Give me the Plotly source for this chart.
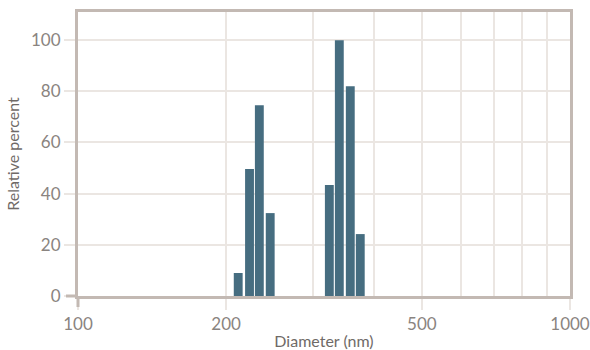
import plotly.graph_objects as go

# Data
diameter_nm = [211.7, 223.2, 233.7, 245.9, 324.3, 339.8, 357.7, 374.8]
relative_percent = [9.0, 49.6, 74.6, 32.4, 43.4, 100.0, 82.0, 24.2]

x_tickvals = [100, 200, 500, 1000]
x_ticktext = ["100", "200", "500", "1000"]
x_minor_vals = [300, 400, 600, 700, 800, 900]
y_tickvals = [0, 20, 40, 60, 80, 100]

BAR = "#466d80"
GRID = "#ebe6e2"
AXIS = "#c3b9b3"
TICKFONT = "#8a8480"
TITLEFONT = "#6f6a67"

widths = [d * 0.0415 for d in diameter_nm]

fig = go.Figure(
    go.Bar(
        x=diameter_nm,
        y=relative_percent,
        width=widths,
        marker=dict(color=BAR, line=dict(width=0)),
    )
)

fig.update_layout(
    width=590,
    height=350,
    margin=dict(l=78, r=20, t=12, b=54),
    paper_bgcolor="white",
    plot_bgcolor="white",
    showlegend=False,
    font=dict(family="Lato", color=TICKFONT),
)

fig.update_xaxes(
    type="log",
    range=[2, 3],
    automargin=False,
    tickvals=x_tickvals,
    ticktext=x_ticktext,
    ticks="outside",
    ticklen=11,
    tickwidth=1.5,
    tickcolor=GRID,
    tickfont=dict(size=17, color=TICKFONT, family="Lato"),
    showgrid=True,
    gridcolor=GRID,
    gridwidth=1.5,
    minor=dict(tickvals=x_minor_vals, showgrid=True, gridcolor=GRID, gridwidth=1.5, ticks=""),
    showline=True,
    linecolor=AXIS,
    linewidth=3,
    mirror=True,
    zeroline=False,
    title=dict(text="Diameter (nm)", font=dict(size=16, color=TITLEFONT, family="Lato"), standoff=6),
)

fig.update_yaxes(
    range=[0, 111],
    automargin=False,
    tickvals=y_tickvals,
    ticks="outside",
    ticklen=11,
    tickwidth=1.5,
    tickcolor=GRID,
    tickfont=dict(size=17, color=TICKFONT, family="Lato"),
    showgrid=True,
    gridcolor=GRID,
    gridwidth=1.5,
    showline=True,
    linecolor=AXIS,
    linewidth=3,
    mirror=True,
    zeroline=False,
    title=dict(text="Relative percent", font=dict(size=16, color=TITLEFONT, family="Lato"), standoff=8),
)

# axis lines extending past the corner (as in the reference)
fig.add_shape(type="line", xref="paper", yref="paper", ysizemode="pixel", yanchor=0,
              x0=0, x1=0, y0=0, y1=-11, line=dict(color=AXIS, width=3))
fig.add_shape(type="line", xref="paper", yref="paper", xsizemode="pixel", xanchor=0,
              x0=-12, x1=0, y0=0, y1=0, line=dict(color=AXIS, width=3))

fig.write_html("out.html")
